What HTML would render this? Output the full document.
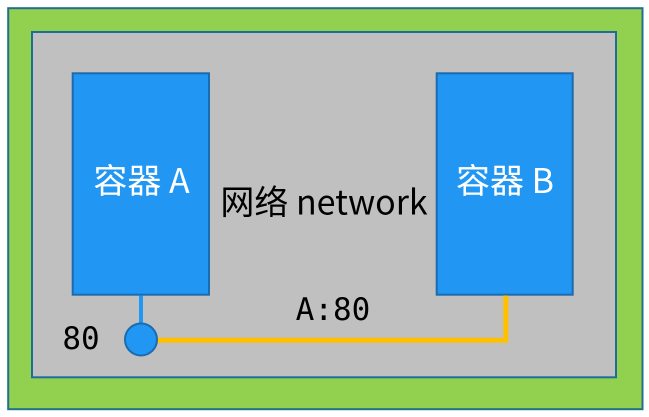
<!DOCTYPE html>
<html>
<head>
<meta charset="utf-8">
<style>
html,body{margin:0;padding:0;background:#fff;}
svg{display:block;}
</style>
</head>
<body>
<svg width="649" height="417" viewBox="0 0 649 417" xmlns="http://www.w3.org/2000/svg">
  <rect x="8.2" y="8.2" width="634.3" height="401" fill="#92d050" stroke="#21708a" stroke-width="2"/>
  <rect x="32" y="32" width="584" height="345.3" fill="#c0c0c0" stroke="#1f6e9a" stroke-width="2"/>
  <rect x="72.7" y="73.3" width="136.3" height="221.4" fill="#2196f3" stroke="#1a6bb0" stroke-width="2"/>
  <rect x="436.7" y="73.3" width="136" height="221.4" fill="#2196f3" stroke="#1a6bb0" stroke-width="2"/>
  <line x1="141" y1="295.5" x2="141" y2="324" stroke="#2196f3" stroke-width="4"/>
  <polyline points="157,340.3 505.8,340.3 505.8,295.5" fill="none" stroke="#ffc000" stroke-width="5" stroke-linejoin="miter"/>
  <circle cx="141" cy="339.5" r="16" fill="#2196f3" stroke="#1a6bb0" stroke-width="2"/>
  <g font-family="'Liberation Sans','Noto Sans CJK SC',sans-serif" font-size="34">
    <text x="141.5" y="193" text-anchor="middle" fill="#ffffff" font-family="'Noto Sans CJK SC',sans-serif">容器 A</text>
    <text x="505" y="193" text-anchor="middle" fill="#ffffff" font-family="'Noto Sans CJK SC',sans-serif">容器 B</text>
    <text x="324" y="214.5" text-anchor="middle" fill="#000000" font-family="'Noto Sans CJK SC',sans-serif">网络 network</text>
  </g>
  <g font-family="'DejaVu Sans Mono','Liberation Mono',monospace" font-size="31" fill="#000000">
    <text x="333" y="320" text-anchor="middle">A:80</text>
    <text x="81" y="349" text-anchor="middle">80</text>
  </g>
</svg>
</body>
</html>
